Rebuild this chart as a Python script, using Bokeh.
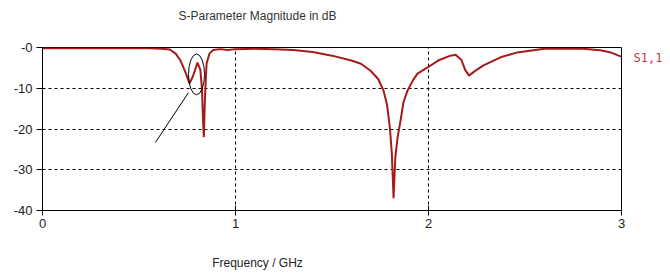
from bokeh.plotting import figure
from bokeh.models import FixedTicker, Range1d, LinearAxis
from bokeh.embed import file_html
from bokeh.resources import INLINE

# ---- data ----
freq_ghz = [0.0, 0.2, 0.4, 0.55, 0.62, 0.66, 0.69, 0.715, 0.74, 0.762, 0.78, 0.803,
            0.818, 0.826, 0.832, 0.836, 0.842, 0.85, 0.865, 0.885, 0.92, 0.96, 1.0,
            1.1, 1.2, 1.3, 1.4, 1.5, 1.6, 1.65, 1.7, 1.74, 1.767, 1.785, 1.80, 1.81,
            1.819, 1.828, 1.84, 1.855, 1.87, 1.891, 1.92, 1.943, 1.995, 2.05, 2.114,
            2.14, 2.17, 2.19, 2.21, 2.24, 2.285, 2.373, 2.46, 2.6, 2.8, 2.89, 2.95,
            2.985, 3.0]
s11_db = [-0.2, -0.2, -0.2, -0.2, -0.3, -0.5, -1.5, -3.2, -6.0, -8.8, -7.0, -3.7,
          -5.5, -10.0, -18.0, -22.0, -12.0, -4.0, -1.5, -0.6, -0.4, -0.6, -0.4,
          -0.3, -0.4, -0.6, -1.1, -2.0, -3.2, -4.0, -5.7, -7.8, -10.6, -14.0, -19.7, -26.0,
          -37.0, -27.0, -22.0, -18.0, -13.5, -10.6, -8.0, -6.4, -4.9, -3.2, -2.0,
          -1.8, -3.0, -5.5, -6.9, -5.8, -4.4, -2.4, -1.2, -0.3, -0.3, -0.7, -1.3,
          -2.0, -2.2]

x_ticks = [0, 1, 2, 3]
y_ticks = [0, -10, -20, -30, -40]
y_tick_labels = ["-0", "-10", "-20", "-30", "-40"]

# annotation: ellipse around the double dip and its pointer line
ellipse_center = [0.798, -6.6]
ellipse_size = [0.083, 10.0]
pointer_x = [0.756, 0.585]
pointer_y = [-11.1, -23.3]

title_text = "S-Parameter Magnitude in dB"
x_label = "Frequency / GHz"
series_name = "S1,1"

FONT = "Liberation Sans"
CURVE = "#a81a1a"
TEXT_X = 1.114      # horizontal centre of title / x label (in GHz, as in the reference)
SERIES_Y = -2.5     # height at which the series name sits, right of the plot

p = figure(width=670, height=277, output_backend="svg", toolbar_location=None,
           x_range=Range1d(0, 3), y_range=Range1d(-40, 0),
           min_border_left=42, min_border_right=49, min_border_top=47, min_border_bottom=67)
p.background_fill_color = "white"
p.border_fill_color = "white"
p.outline_line_color = "black"
p.outline_line_width = 1

# main axes
xax = p.xaxis[0]
yax = p.yaxis[0]
xax.ticker = FixedTicker(ticks=x_ticks)
yax.ticker = FixedTicker(ticks=y_ticks)
yax.major_label_overrides = {t_: l for t_, l in zip(y_ticks, y_tick_labels)}
for ax in (xax, yax):
    ax.axis_line_color = "black"
    ax.major_tick_line_color = "black"
    ax.minor_tick_line_color = None
    ax.major_label_text_font = FONT
    ax.major_label_text_font_size = "13px"
    ax.major_label_text_color = "#222222"
xax.major_tick_in = 5
xax.major_tick_out = 5
xax.major_label_standoff = 3
yax.major_tick_in = 0
yax.major_tick_out = 6
yax.major_label_standoff = 4
yax.major_label_text_baseline = "alphabetic"


def text_axis(pos, tick, label, standoff, font, size, color):
    ax = LinearAxis(ticker=FixedTicker(ticks=[tick]),
                    major_label_overrides={tick: label},
                    axis_line_color=None, major_tick_line_color=None,
                    minor_tick_line_color=None, major_tick_in=0, major_tick_out=0,
                    major_label_standoff=standoff, major_label_text_font=font,
                    major_label_text_font_size=size, major_label_text_color=color,
                    major_label_orientation="horizontal")
    p.add_layout(ax, pos)
    return ax


text_axis("above", TEXT_X, title_text, 25, FONT, "12px", "#333333")
text_axis("below", TEXT_X, x_label, 25, FONT, "12px", "#222222")
text_axis("right", SERIES_Y, series_name, 12, "DejaVu Sans Mono", "12px", "#c04040")

# grid
for g in (p.xgrid[0], p.ygrid[0]):
    g.grid_line_color = "black"
    g.grid_line_dash = "3 3"
    g.grid_line_width = 1

# curve
p.line(freq_ghz, s11_db, line_color=CURVE, line_width=2)

# annotation
p.ellipse(x=[ellipse_center[0]], y=[ellipse_center[1]], width=[ellipse_size[0]],
          height=[ellipse_size[1]], fill_color=None, line_color="black", line_width=1)
p.line(pointer_x, pointer_y, line_color="black", line_width=1)

open("out.html", "w").write(file_html(p, INLINE))
